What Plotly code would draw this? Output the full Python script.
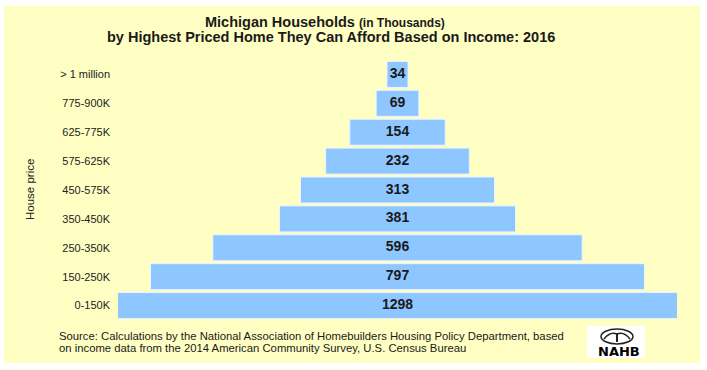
import plotly.graph_objects as go

categories = ["0-150K", "150-250K", "250-350K", "350-450K", "450-575K",
              "575-625K", "625-775K", "775-900K", "> 1 million"]
values = [1298, 797, 596, 381, 313, 232, 154, 69, 34]

BAR = "#8EC7FF"
BG = "#FFFFC4"
FONT = "Liberation Sans, Arial"

fig = go.Figure()
fig.add_trace(go.Bar(
    y=categories, x=values, base=[-v / 2 for v in values], orientation="h",
    marker=dict(color=BAR, line=dict(color="#EAF4FF", width=1)),
    hoverinfo="skip", showlegend=False,
))
fig.add_trace(go.Scatter(
    y=categories, x=[0] * len(values), mode="text",
    text=[str(v) for v in values],
    textfont=dict(family=FONT, size=14, color="#1a1a1a", weight="bold"),
    textposition="middle center", hoverinfo="skip", showlegend=False,
))

L, R, T, B = 118, 30, 60, 50
W, H = 707, 370
pw, ph = W - L - R, H - T - B

def px(x):
    return (x - L) / pw

def py(y):
    return (H - B - y) / ph

wing = (f"M {px(604)},{py(339)} Q {px(610)},{py(331)} {px(617)},{py(334)} "
        f"Q {px(624)},{py(331)} {px(630)},{py(339)}")
body = f"M {px(617)},{py(333)} L {px(617)},{py(342)}"

shapes = [
    dict(type="rect", xref="paper", yref="paper", x0=px(4), x1=px(700),
         y0=py(363), y1=py(6), fillcolor=BG, line=dict(width=0), layer="below"),
    dict(type="rect", xref="paper", yref="paper", x0=px(587), x1=px(645),
         y0=py(358), y1=py(326), fillcolor="white", line=dict(width=0), layer="above"),
    dict(type="circle", xref="paper", yref="paper", x0=px(601), x1=px(633),
         y0=py(344), y1=py(329), fillcolor="white", line=dict(width=1.5, color="#222"), layer="above"),
    dict(type="path", xref="paper", yref="paper", path=wing,
         line=dict(width=1.5, color="#222"), layer="above"),
    dict(type="path", xref="paper", yref="paper", path=body,
         line=dict(width=2, color="#222"), layer="above"),
]

annotations = [
    dict(xref="paper", yref="paper", x=px(325), y=py(22), xanchor="center", yanchor="middle",
         showarrow=False,
         text="<b>Michigan Households</b> <span style='font-size:12px'><b>(in Thousands)</b></span>",
         font=dict(family=FONT, size=14.5, color="#1a1a1a")),
    dict(xref="paper", yref="paper", x=px(331), y=py(37), xanchor="center", yanchor="middle",
         showarrow=False,
         text="<b>by Highest Priced Home They Can Afford Based on Income: 2016</b>",
         font=dict(family=FONT, size=14.5, color="#1a1a1a")),
    dict(xref="paper", yref="paper", x=px(30), y=0.5, xanchor="center", yanchor="middle",
         showarrow=False, textangle=-90,
         text="House price", font=dict(family=FONT, size=11.5, color="#222")),
    dict(xref="paper", yref="paper", x=px(57), y=py(336), xanchor="left", yanchor="middle",
         showarrow=False,
         text="Source: Calculations by the National Association of Homebuilders Housing Policy Department, based",
         font=dict(family=FONT, size=11.3, color="#1a1a1a")),
    dict(xref="paper", yref="paper", x=px(57), y=py(348), xanchor="left", yanchor="middle",
         showarrow=False,
         text="on income data from the 2014 American Community Survey, U.S. Census Bureau",
         font=dict(family=FONT, size=11.3, color="#1a1a1a")),
    dict(xref="paper", yref="paper", x=px(619), y=py(351), xanchor="center", yanchor="middle",
         showarrow=False,
         text="<b>NAHB</b>", font=dict(family="DejaVu Sans", size=13, color="#000")),
]

fig.update_layout(
    width=W, height=H,
    margin=dict(l=L, r=R, t=T, b=B),
    paper_bgcolor="white", plot_bgcolor="rgba(0,0,0,0)",
    bargap=0.1,
    xaxis=dict(range=[-451, 451], visible=False, fixedrange=True),
    yaxis=dict(categoryorder="array", categoryarray=categories, range=[-0.5, 8.5],
               showgrid=False, zeroline=False, showline=False, ticks="",
               ticklabelstandoff=7, fixedrange=True,
               tickfont=dict(family=FONT, size=11, color="#222")),
    shapes=shapes, annotations=annotations,
)

fig.write_html("out.html", config={"displayModeBar": False},
               post_script="document.body.style.margin='0px';")
